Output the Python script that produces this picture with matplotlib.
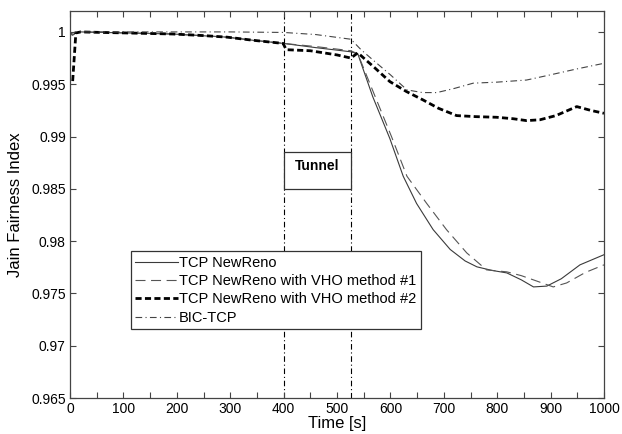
import numpy as np
import matplotlib.pyplot as plt
from matplotlib.patches import Rectangle
from matplotlib.ticker import MultipleLocator, FuncFormatter

plt.rcParams['font.family'] = ['Liberation Sans', 'DejaVu Sans']

# TCP NewReno
nr_t = [0, 5, 11, 20, 107, 193, 294, 343, 400, 460, 526, 539, 567, 599, 624,
        649, 680, 712, 740, 762, 790, 818, 845, 868, 893, 920, 955, 1000]
nr_v = [0.9998, 0.9997, 0.9999, 1.0, 0.9999, 0.9998, 0.9995, 0.9992, 0.9989,
        0.9985, 0.9981, 0.9979, 0.9938, 0.9898, 0.9862, 0.9836, 0.9811, 0.9792,
        0.9781, 0.97754, 0.9772, 0.97696, 0.9763, 0.97562, 0.9757, 0.9764,
        0.97773, 0.9787]

# TCP NewReno with VHO method #1
vho1_t = [0, 5, 11, 20, 107, 193, 294, 343, 400, 460, 526, 539, 570, 602, 631,
          668, 705, 743, 780, 818, 845, 868, 905, 930, 965, 1000]
vho1_v = [0.9998, 0.9997, 0.9999, 1.0, 0.9999, 0.9998, 0.9995, 0.9992, 0.9989,
          0.9986, 0.9982, 0.9979, 0.9940, 0.9900, 0.9862, 0.9836, 0.9811,
          0.97887, 0.97725, 0.97706, 0.9767, 0.97629, 0.97562, 0.9760, 0.9770,
          0.97773]

# TCP NewReno with VHO method #2
vho2_t = [5, 11, 20, 60, 107, 150, 193, 250, 294, 343, 399, 405, 450, 500, 526,
          539, 570, 599, 630, 661, 690, 724, 760, 799, 830, 855, 880, 910, 949,
          975, 1000]
vho2_v = [0.9953, 0.9999, 1.0, 0.99995, 0.9999, 0.99985, 0.9998, 0.99965,
          0.9995, 0.9992, 0.9989, 0.9983, 0.9982, 0.9978, 0.9975, 0.9980,
          0.9966, 0.99525, 0.9943, 0.9935, 0.9927, 0.9920, 0.9919, 0.99184,
          0.9917, 0.99152, 0.9916, 0.9920, 0.99286, 0.9925, 0.99222]

# BIC-TCP
bic_t = [0, 10, 100, 200, 300, 400, 460, 526, 545, 570, 600, 631, 660, 687,
         720, 755, 800, 855, 900, 949, 1000]
bic_v = [0.9998, 1.0, 1.0, 1.0, 1.0, 0.99995, 0.99975, 0.9993, 0.9983, 0.9972,
         0.9959, 0.99446, 0.9942, 0.9942, 0.9946, 0.9951, 0.9952, 0.9954,
         0.9959, 0.99646, 0.9970]

# Tramo del tunel
tunnel_start = 400
tunnel_end = 527
tunnel_low = 0.985
tunnel_high = 0.9885

fig = plt.figure(figsize=(6.22, 4.34), dpi=100)
ax = fig.add_axes([70 / 622, 36 / 434, 534 / 622, 387 / 434])

thin = '#3a3a3a'
ax.plot(nr_t, nr_v, '-', color=thin, linewidth=0.8, label='TCP NewReno')
ax.plot(vho1_t, vho1_v, color='#555555', linewidth=0.8, dashes=(9, 5),
        label='TCP NewReno with VHO method #1')
ax.plot(vho2_t, vho2_v, color='black', linewidth=2.0, dashes=(2.2, 1.2),
        label='TCP NewReno with VHO method #2')
ax.plot(bic_t, bic_v, color='#444444', linewidth=0.8, dashes=(6, 3, 1, 3),
        label='BIC-TCP')

# Lineas verticales que marcan entrada y salida del tunel
for xv in (tunnel_start, tunnel_end):
    ax.axvline(xv, color='black', linewidth=0.8, dashes=(5, 2.5, 1, 2.5), zorder=1)

ax.add_patch(Rectangle((tunnel_start, tunnel_low), tunnel_end - tunnel_start,
                       tunnel_high - tunnel_low, facecolor='white',
                       edgecolor='#333333', linewidth=0.9, zorder=3))
ax.text((tunnel_start + tunnel_end) / 2, 0.9872, 'Tunnel', ha='center',
        va='center', fontsize=10, fontweight='bold', zorder=4)

ax.set_xlim(0, 1000)
ax.set_ylim(0.965, 1.002)
ax.xaxis.set_major_locator(MultipleLocator(100))
ax.xaxis.set_minor_locator(MultipleLocator(50))
ax.yaxis.set_major_locator(MultipleLocator(0.005))
ax.yaxis.set_major_formatter(FuncFormatter(lambda v, p: f'{v:g}'))
ax.tick_params(which='both', direction='in', top=True, right=True,
               length=4, width=0.8, color='#444444', labelsize=10, pad=3)
for s in ax.spines.values():
    s.set_color('#444444')
    s.set_linewidth(0.9)

ax.set_xlabel('Time [s]', fontsize=12, labelpad=0)
ax.set_ylabel('Jain Fairness Index', fontsize=12, labelpad=6)

leg = ax.legend(loc='lower left', bbox_to_anchor=(0.114, 0.178),
                borderaxespad=0, fontsize=10.5, handlelength=2.9,
                handletextpad=0.1, labelspacing=0.3, borderpad=0.3,
                fancybox=False, framealpha=1)
leg.get_frame().set_edgecolor('#333333')
leg.get_frame().set_linewidth(0.9)

plt.savefig('out.png', dpi=100)
